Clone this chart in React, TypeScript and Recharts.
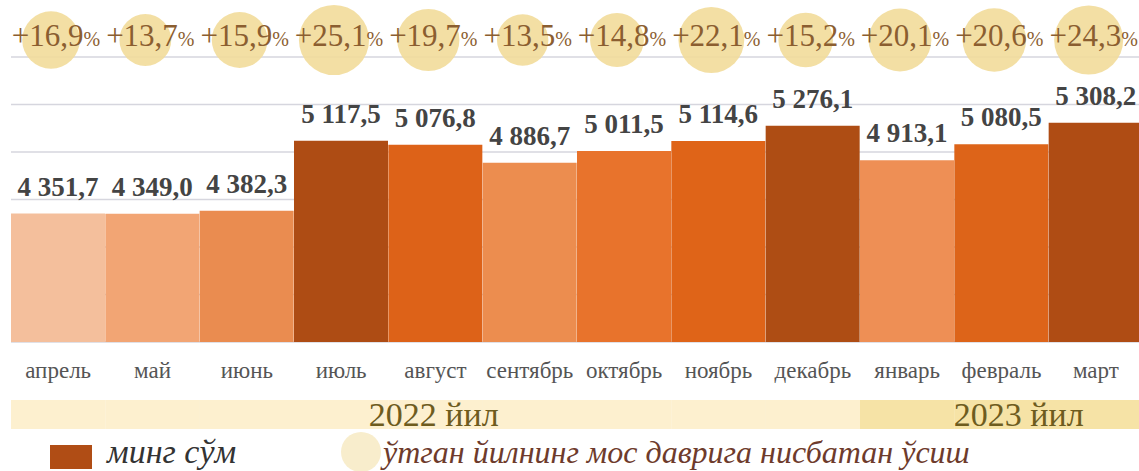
import React from "react";
import { BarChart, Bar, XAxis, YAxis, CartesianGrid, Cell, LabelList } from "recharts";

const months = ["апрель", "май", "июнь", "июль", "август", "сентябрь", "октябрь", "ноябрь", "декабрь", "январь", "февраль", "март"];
const values = [4351.7, 4349.0, 4382.3, 5117.5, 5076.8, 4886.7, 5011.5, 5114.6, 5276.1, 4913.1, 5080.5, 5308.2];
const growth = [16.9, 13.7, 15.9, 25.1, 19.7, 13.5, 14.8, 22.1, 15.2, 20.1, 20.6, 24.3];
const years = ["2022 йил", "2022 йил", "2022 йил", "2022 йил", "2022 йил", "2022 йил", "2022 йил", "2022 йил", "2022 йил", "2023 йил", "2023 йил", "2023 йил"];
const yTicks = [3000, 3500, 4000, 4500, 5000, 5500, 6000];

const barColors = ["#f4bf9c", "#f2a574", "#ea8c50", "#ae4c14", "#dd6218", "#ec8d4f", "#e8732c", "#df6418", "#ae4d14", "#ee8f55", "#dd6419", "#af4c14"];
const bandColors: Record<string, string> = { "2022 йил": "#fdf0cf", "2023 йил": "#f6e3a6" };

const data = months.map((m, i) => ({ month: m, value: values[i], growth: growth[i], year: years[i] }));

const SERIF = "'Liberation Serif', Tinos, 'Times New Roman', 'DejaVu Serif', serif";
const serif = { fontFamily: SERIF };

const fmt = (v: any) => {
  const [int, dec] = Number(v).toFixed(1).split(".");
  return int.replace(/\B(?=(\d{3})+(?!\d))/g, " ") + "," + dec;
};

// bar geometry from the label props
const geom = (props: any) => {
  const vb = props.viewBox ?? props;
  return { x: Number(vb.x ?? props.x), width: Number(vb.width ?? props.width) };
};

const GrowthBubble = (props: any) => {
  const { x, width } = geom(props);
  const v = Number(props.value);
  const cx = x + width / 2;
  const r = 7 * Math.sqrt(v);
  return (
    <g>
      <circle cx={cx - 7} cy={40} r={r} fill="#f2dc9a" fillOpacity={0.9} />
      <text x={cx - 2} y={46} textAnchor="middle" style={serif} fill="#8b5e30">
        <tspan fontSize={31}>+{v.toFixed(1).replace(".", ",")}</tspan>
        <tspan fontSize={20}>%</tspan>
      </text>
    </g>
  );
};

const YearBand = (props: any) => {
  const { x, width } = geom(props);
  const value = String(props.value);
  const index = Number(props.index);
  const last = years.lastIndexOf(value);
  const count = years.filter((y) => y === value).length;
  return (
    <g>
      <rect x={x} y={400} width={width + 0.6} height={29} fill={bandColors[value]} />
      {index === last && (
        <text
          x={x + width - (width * count) / 2 + (index === years.length - 1 ? 17 : -3)}
          y={426}
          textAnchor="middle"
          style={serif}
          fontSize={34}
          fill="#6e5c1e"
        >
          {value}
        </text>
      )}
    </g>
  );
};

const MonthTick = (props: any) => (
  <text x={props.x} y={Number(props.y) + 36} textAnchor="middle" fontSize={23} fill="#555" style={serif}>
    {props.payload.value}
  </text>
);

const App: React.FC = () => {
  return (
    <div style={{ position: "absolute", left: 0, top: 0, width: 1139, height: 471, overflow: "hidden", background: "#fff" }}>
      <BarChart
        width={1150}
        height={471}
        data={data}
        margin={{ top: 57, right: 7, left: 11, bottom: 89 }}
        barCategoryGap={0}
        barGap={0}
      >
        <CartesianGrid vertical={false} stroke="#d6d6de" strokeWidth={1.5} />
        <XAxis dataKey="month" axisLine={false} tickLine={false} tickSize={0} tickMargin={0} height={40} interval={0} tick={MonthTick} />
        <YAxis hide type="number" domain={[3000, 6000]} ticks={yTicks} allowDataOverflow />
        <Bar dataKey="value" isAnimationActive={false}>
          {data.map((d, i) => (
            <Cell key={d.month} fill={barColors[i]} />
          ))}
          <LabelList
            dataKey="value"
            position="top"
            offset={18}
            formatter={fmt}
            fill="#444"
            fontSize={27}
            fontWeight="bold"
            style={serif}
          />
          <LabelList dataKey="growth" content={GrowthBubble} />
          <LabelList dataKey="year" content={YearBand} />
        </Bar>
      </BarChart>

      {/* legend */}
      <svg width={1139} height={471} style={{ position: "absolute", left: 0, top: 0, pointerEvents: "none" }}>
        <rect x={50} y={445} width={42} height={24} fill="#b04d15" />
        <text x={107} y={463} style={serif} fontStyle="italic" fontSize={34} fill="#333">
          минг сўм
        </text>
        <circle cx={361} cy={452} r={20} fill="#f8edcc" />
        <text x={383} y={463} style={serif} fontStyle="italic" fontSize={32} fill="#6e3b2c">
          ўтган йилнинг мос даврига нисбатан ўсиш
        </text>
      </svg>
    </div>
  );
};

export default App;
